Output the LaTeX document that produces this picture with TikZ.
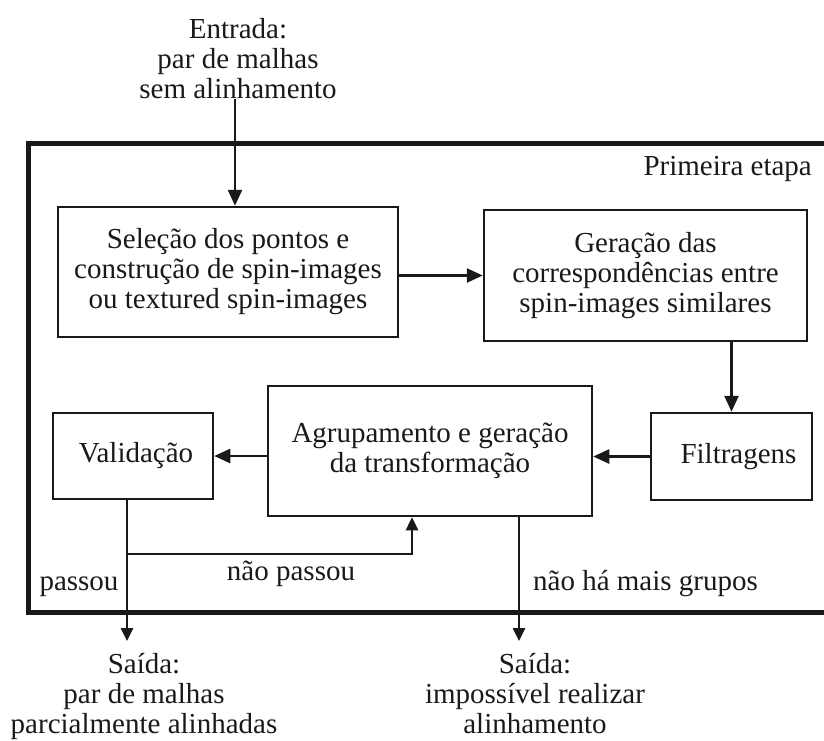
\documentclass[tikz,border=0pt]{standalone}
\usepackage{fontspec}
\setmainfont{Liberation Serif}
\usetikzlibrary{arrows.meta}
\begin{document}
\begin{tikzpicture}[x=1pt,y=-1pt,
  every node/.style={font=\fontsize{29}{30}\selectfont, text=black!90},
  box/.style={draw=black!90, line width=2.5pt, align=center, inner sep=0pt, anchor=center},
  lbl/.style={align=center, inner sep=0pt},
  conn/.style={draw=black!90, line width=2.5pt, -{Triangle[length=16pt,width=14pt]}},
  smallconn/.style={draw=black!90, line width=2.5pt, -{Triangle[length=13pt,width=12pt]}},
  frame/.style={draw=black!90, line width=5pt}]
\useasboundingbox (0,0) rectangle (824,740);
\begin{scope}
  \clip (0,0) rectangle (824,740);
  \draw[frame] (28.5,143) rectangle (880,612);
\end{scope}

\node[box, minimum width=340pt, minimum height=130pt] (sel) at (228,272)
  {Seleção dos pontos e\\construção de spin-images\\ou textured spin-images};
\node[box, minimum width=323pt, minimum height=131pt] (ger) at (645.5,275.5)
  {Geração das\\correspondências entre\\spin-images similares};
\node[box, minimum width=161pt, minimum height=87pt] (fil) at (731.5,456.5)
  {\hspace*{14pt}Filtragens};
\node[box, minimum width=324pt, minimum height=130pt] (agr) at (430,451)
  {Agrupamento e geração\\da transformação};
\node[box, minimum width=160pt, minimum height=86pt] (val) at (133,456)
  {\hspace*{6pt}Validação};

\node[lbl] (in) at (238,58.5) {Entrada:\\par de malhas\\sem alinhamento};
\node[lbl, anchor=base east] (etapa) at (812,175) {Primeira etapa};
\node[lbl, anchor=base] (passou) at (79,590) {passou};
\node[lbl, anchor=base] (naopassou) at (291,580) {não passou};
\node[lbl, anchor=base] (naoha) at (645.5,590) {não há mais grupos};
\node[lbl] (out1) at (144,696) {Saída:\\par de malhas\\parcialmente alinhadas};
\node[lbl] (out2) at (535,694) {Saída:\\impossível realizar\\alinhamento};

\coordinate (o1) at (127,641);
\coordinate (o2) at (519,641);
\coordinate (br) at (127,554);

\draw[conn] ([xshift=-3pt]in.south) -- ([xshift=-3pt]in.south |- sel.north);
\draw[conn] (sel.east |- ger.west) -- (ger.west);
\draw[conn] (ger.south -| fil.north) -- (fil.north);
\draw[conn] (fil.west) -- (fil.west -| agr.east);
\draw[conn] (agr.west |- val.east) -- (val.east);
\draw[smallconn] (val.south -| o1) -- (o1);
\draw[smallconn] (br) -| ([xshift=-18pt]agr.south);
\draw[smallconn] (agr.south -| o2) -- (o2);
\end{tikzpicture}
\end{document}
